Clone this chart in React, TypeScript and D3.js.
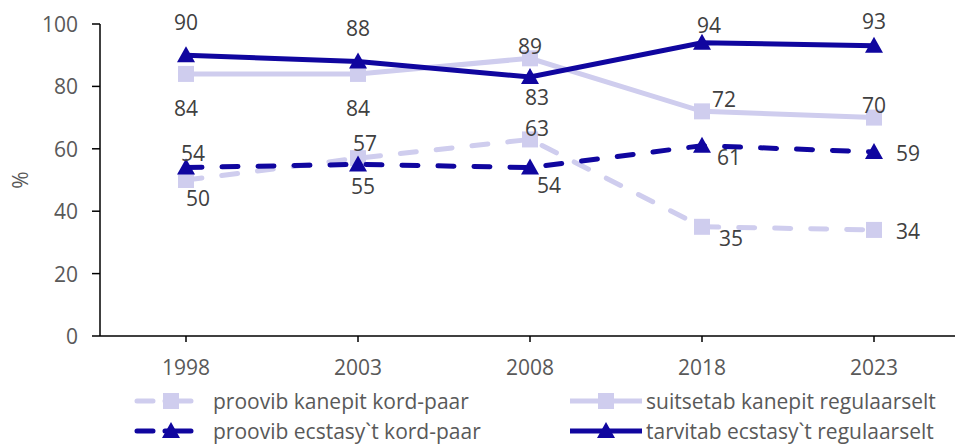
import React from "react";
import * as d3 from "d3";

const years = ["1998", "2003", "2008", "2018", "2023"];
const yTicks = [0, 20, 40, 60, 80, 100];
const seriesNames = [
  "proovib kanepit kord-paar",
  "suitsetab kanepit regulaarselt",
  "proovib ecstasy`t kord-paar",
  "tarvitab ecstasy`t regulaarselt",
];
const kanepitKordPaar = [50, 57, 63, 35, 34];
const kanepitRegulaarselt = [84, 84, 89, 72, 70];
const ecstasyKordPaar = [54, 55, 54, 61, 59];
const ecstasyRegulaarselt = [90, 88, 83, 94, 93];
const yAxisTitle = "%";

const W = 955;
const H = 446;
const DARK = "#10069F";
const LIGHT = "#CFCDEE";
const TEXT = "#595959";
const LABEL = "#404040";
const FONT = "'Open Sans', 'Noto Sans', sans-serif";
const FS = 21;

// label offsets (layout only)
const labelOffsets: [number, number][][] = [
  [[12, 18], [7, -15], [7, -11], [29, 11], [34, 1]],
  [[0, 34], [0, 34], [0, -12], [22, -12], [0, -13]],
  [[7, -15], [5, 22], [19, 17], [27, 11], [34, 1]],
  [[0, -33], [0, -33], [7, 20], [7, -18], [0, -25]],
];

const styles = [
  { color: LIGHT, dashed: true, marker: "square" },
  { color: LIGHT, dashed: false, marker: "square" },
  { color: DARK, dashed: true, marker: "triangle" },
  { color: DARK, dashed: false, marker: "triangle" },
];

function Marker({ x, y, kind, color }: { x: number; y: number; kind: string; color: string }) {
  if (kind === "square") {
    return <rect x={x - 8} y={y - 8} width={16} height={16} fill={color} />;
  }
  return (
    <path
      d={`M${x},${y - 9} L${x + 9},${y + 7} L${x - 9},${y + 7} Z`}
      fill={color}
    />
  );
}

export default function App() {
  const series = [kanepitKordPaar, kanepitRegulaarselt, ecstasyKordPaar, ecstasyRegulaarselt];
  const x = d3.scaleBand<string>().domain(years).range([100, 960]);
  const y = d3.scaleLinear().domain([0, 100]).range([336, 24]);
  const cx = (yr: string) => (x(yr) as number) + x.bandwidth() / 2;
  const line = d3
    .line<number>()
    .x((_, i) => cx(years[i]))
    .y((d) => y(d));

  const legendItems = [
    { x0: 137, x1: 191, mx: 171, tx: 213, ty: 401 },
    { x0: 570, x1: 642, mx: 606, tx: 646, ty: 401 },
    { x0: 137, x1: 191, mx: 171, tx: 213, ty: 431 },
    { x0: 570, x1: 642, mx: 606, tx: 646, ty: 431 },
  ];

  return (
    <svg
      width={W}
      height={H}
      style={{ position: "absolute", left: 0, top: 0, background: "#fff" }}
      fontFamily={FONT}
    >
      {/* y axis */}
      <line x1={100} x2={100} y1={24} y2={336} stroke="#000" strokeWidth={1.5} />
      {yTicks.map((t) => (
        <g key={t}>
          <line x1={92} x2={100} y1={y(t)} y2={y(t)} stroke="#000" strokeWidth={1.5} />
          <text x={78} y={y(t)} textAnchor="end" dominantBaseline="central" fontSize={FS} fill={TEXT}>
            {t}
          </text>
        </g>
      ))}
      <text
        transform={`translate(20,${y(50)}) rotate(-90)`}
        textAnchor="middle"
        dominantBaseline="central"
        fontSize={FS}
        fill={TEXT}
      >
        {yAxisTitle}
      </text>
      {/* x axis */}
      <line x1={100} x2={960} y1={336} y2={336} stroke="#000" strokeWidth={1.5} />
      {years.map((yr) => (
        <g key={yr}>
          <line x1={cx(yr)} x2={cx(yr)} y1={336} y2={342} stroke="#000" strokeWidth={1.5} />
          <text x={cx(yr)} y={367} textAnchor="middle" dominantBaseline="central" fontSize={FS} fill={TEXT}>
            {yr}
          </text>
        </g>
      ))}
      {/* series */}
      {series.map((vals, si) => (
        <g key={si}>
          <path
            d={line(vals) || ""}
            fill="none"
            stroke={styles[si].color}
            strokeWidth={5}
            strokeLinecap={styles[si].dashed ? "round" : "butt"}
            strokeDasharray={styles[si].dashed ? "16 20" : undefined}
          />
          {vals.map((v, i) => (
            <Marker key={i} x={cx(years[i])} y={y(v)} kind={styles[si].marker} color={styles[si].color} />
          ))}
        </g>
      ))}
      {series.map((vals, si) =>
        vals.map((v, i) => (
          <text
            key={`${si}-${i}`}
            x={cx(years[i]) + labelOffsets[si][i][0]}
            y={y(v) + labelOffsets[si][i][1]}
            textAnchor="middle"
            dominantBaseline="central"
            fontSize={FS}
            fill={LABEL}
          >
            {v}
          </text>
        ))
      )}
      {/* legend */}
      {legendItems.map((it, si) => (
        <g key={si}>
          <line
            x1={it.x0}
            x2={it.x1}
            y1={it.ty}
            y2={it.ty}
            stroke={styles[si].color}
            strokeWidth={5}
            strokeLinecap={styles[si].dashed ? "round" : "butt"}
            strokeDasharray={styles[si].dashed ? "16 12 30" : undefined}
          />
          <Marker x={it.mx} y={it.ty} kind={styles[si].marker} color={styles[si].color} />
          <text x={it.tx} y={it.ty} dominantBaseline="central" fontSize={FS} fill={TEXT}>
            {seriesNames[si]}
          </text>
        </g>
      ))}
    </svg>
  );
}
